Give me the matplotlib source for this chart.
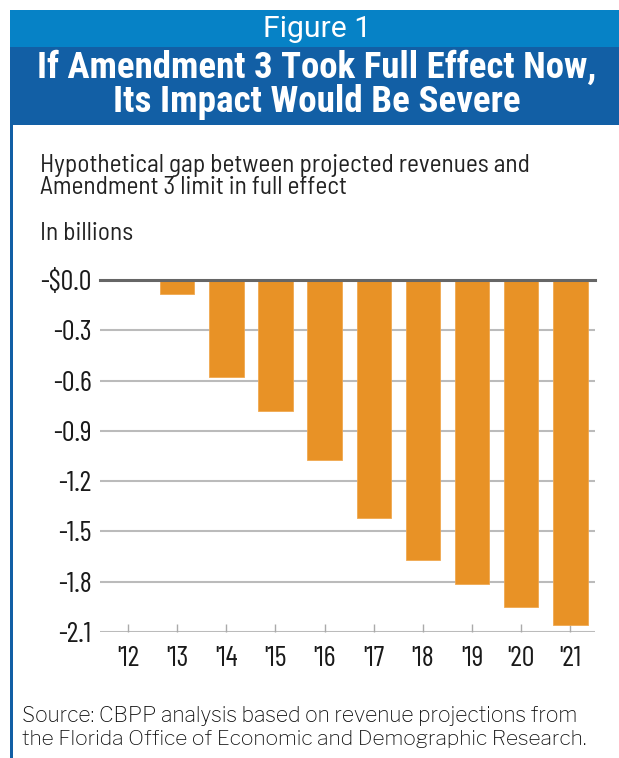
import matplotlib
matplotlib.use("Agg")
import matplotlib.pyplot as plt
from matplotlib import font_manager
from matplotlib.patches import Rectangle

years = ["'12", "'13", "'14", "'15", "'16", "'17", "'18", "'19", "'20", "'21"]
gap = [0.0, -0.085, -0.58, -0.783, -1.076, -1.418, -1.669, -1.811, -1.948, -2.056]
yticks = [0.0, -0.3, -0.6, -0.9, -1.2, -1.5, -1.8, -2.1]
ytick_labels = ["-$0.0", "-0.3", "-0.6", "-0.9", "-1.2", "-1.5", "-1.8", "-2.1"]

title_top = "Figure 1"
title_lines = ["If Amendment 3 Took Full Effect Now,", "Its Impact Would Be Severe"]
subtitle_lines = ["Hypothetical gap between projected revenues and", "Amendment 3 limit in full effect"]
unit_label = "In billions"
source_lines = ["Source: CBPP analysis based on revenue projections from",
                "the Florida Office of Economic and Demographic Research."]

names = {f.name for f in font_manager.fontManager.ttflist}


def pick(*cands):
    for c in cands:
        if c in names:
            return c
    return "DejaVu Sans"


chart_font = pick("Barlow Semi Condensed", "Asap Condensed", "Archivo Narrow", "PT Sans Narrow")
tick_font = pick("Barlow Condensed", "Barlow Semi Condensed", "Asap Condensed")
title_font = pick("Roboto Condensed", "Fira Sans Condensed", "Barlow Semi Condensed",
                  "Asap Condensed", "Archivo Narrow")
fig_font = pick("Roboto", "Open Sans", "Liberation Sans")
source_font = pick("Libre Franklin", "Franklin Gothic Book", "Public Sans", "Liberation Sans")

W, H = 619, 758
fig = plt.figure(figsize=(W / 100, H / 100), dpi=100)
renderer = fig.canvas.get_renderer()


def fx(x):
    return x / W


def fy(y):
    return 1 - y / H


def fit(t, target_px):
    for _ in range(3):
        w = t.get_window_extent(renderer=renderer).width
        t.set_fontsize(t.get_fontsize() * target_px / w)
    return t


light_blue = "#0682C6"
dark_blue = "#125FA5"
fig.patches.append(Rectangle((fx(10), fy(47)), fx(619 - 10), 37 / H, transform=fig.transFigure,
                             facecolor=light_blue, edgecolor="none", zorder=0))
fig.patches.append(Rectangle((fx(10), fy(125)), fx(619 - 10), 78 / H, transform=fig.transFigure,
                             facecolor=dark_blue, edgecolor="none", zorder=0))
fig.patches.append(Rectangle((fx(10), 0), fx(3), fy(125), transform=fig.transFigure,
                             facecolor=dark_blue, edgecolor="none", zorder=0))

fit(fig.text(fx(317), fy(37), title_top, color="white", fontsize=20, family=fig_font,
             ha="center", va="baseline"), 108)
fit(fig.text(fx(317), fy(78), title_lines[0], color="white", fontsize=24, family=title_font,
             fontweight="bold", ha="center", va="baseline"), 560)
fit(fig.text(fx(317), fy(112), title_lines[1], color="white", fontsize=24, family=title_font,
             fontweight="bold", ha="center", va="baseline"), 408)

sub1 = fit(fig.text(fx(40), fy(172), subtitle_lines[0], color="#222222", fontsize=16.5,
                    family=chart_font, ha="left", va="baseline"), 490)
sub_size = min(sub1.get_fontsize(), 18.5)
sub1.set_fontsize(sub_size)
fig.text(fx(40), fy(194), subtitle_lines[1], color="#222222", fontsize=sub_size, family=chart_font,
         ha="left", va="baseline")
fig.text(fx(40), fy(240), unit_label, color="#222222", fontsize=sub_size, family=chart_font,
         ha="left", va="baseline")

fit(fig.text(fx(22), fy(722), source_lines[0], color="#111111", fontsize=13.4, family=source_font,
             ha="left", va="baseline"), 555)
fit(fig.text(fx(22), fy(745), source_lines[1], color="#111111", fontsize=13.4, family=source_font,
             ha="left", va="baseline"), 565)

tick_size = 20.5

ax = fig.add_axes([fx(100), fy(632), fx(595 - 100), (632 - 280) / H])
x = list(range(len(years)))
ax.bar(x, gap, width=0.7, color="#E89226", edgecolor="#F0A850", linewidth=0.6, zorder=2)
ax.set_xlim(-0.57, 9.5)
ax.set_ylim(-2.1, 0)
ax.set_yticks(yticks)
ax.set_yticklabels(ytick_labels)
ax.set_xticks(x)
ax.set_xticklabels(years)
for s in ax.spines.values():
    s.set_visible(False)
for v in yticks[1:]:
    ax.axhline(v, color="#BBBBBB", linewidth=1.5, zorder=1)
ax.axhline(0, color="#666666", linewidth=2.2, zorder=3, clip_on=False)
ax.tick_params(axis="y", length=0, pad=6, labelsize=tick_size, labelcolor="#1A1A1A")
ax.tick_params(axis="x", direction="in", length=6, width=1, color="#AAAAAA", pad=10,
               labelsize=tick_size, labelcolor="#1A1A1A")
for lab in ax.get_xticklabels() + ax.get_yticklabels():
    lab.set_family(tick_font)
ax.set_facecolor("none")

fig.savefig("out.png", dpi=100)
